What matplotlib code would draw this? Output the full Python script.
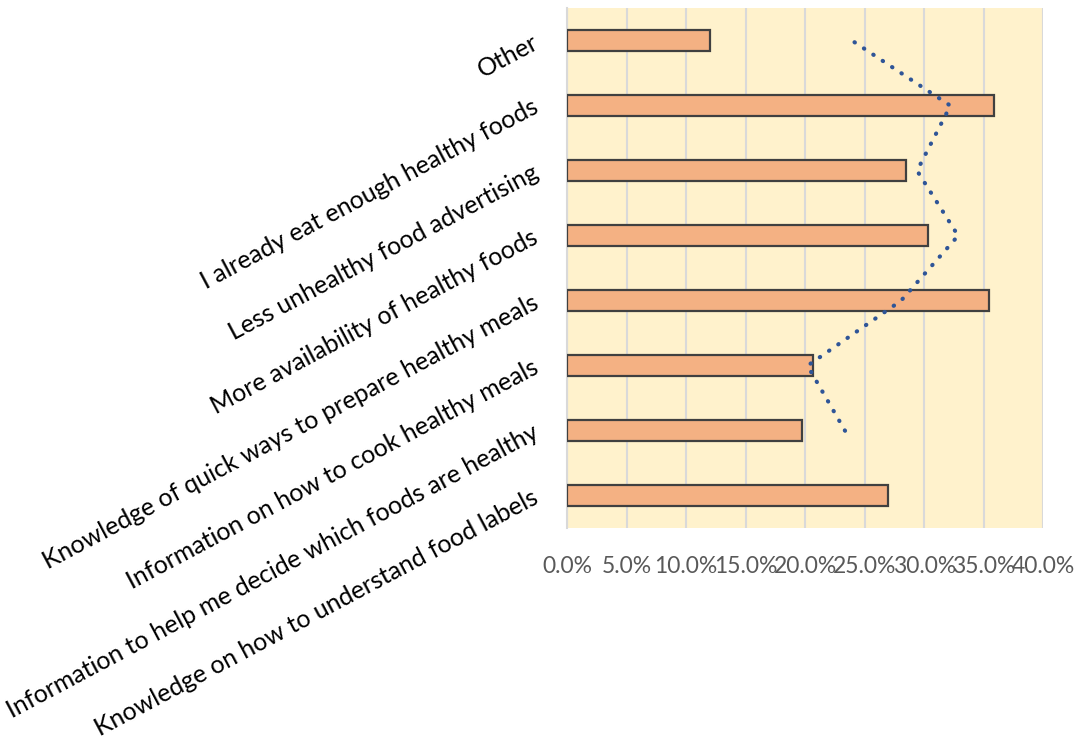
import numpy as np
import matplotlib.pyplot as plt
from matplotlib.ticker import PercentFormatter

# survey answers, bottom to top
categories = [
    "Knowledge on how to understand food labels",
    "Information to help me decide which foods are healthy",
    "Information on how to cook healthy meals",
    "Knowledge of quick ways to prepare healthy meals",
    "More availability of healthy foods",
    "Less unhealthy food advertising",
    "I already eat enough healthy foods",
    "Other",
]
shares = [27.0, 19.7, 20.7, 35.4, 30.3, 28.5, 35.9, 12.0]
x_ticks = [0, 5, 10, 15, 20, 25, 30, 35, 40]

plt.rcParams['font.family'] = ['Lato', 'DejaVu Sans']

fig = plt.figure(figsize=(10.8, 7.43), dpi=100)
ax = fig.add_axes([0.525, 0.289, 0.441, 0.700])
ax.set_facecolor("#FFF2CC")

y = np.arange(len(categories))
ax.barh(y, shares, height=0.32, color="#F4B183", edgecolor="#404040",
        linewidth=1.6, zorder=3)

# 2-period moving average trendline
vals = np.array(shares)
ma = (vals[1:] + vals[:-1]) / 2
ax.plot(ma, y[1:], color="#2F5597", linestyle=(0, (0.1, 2.6)), linewidth=3,
        dash_capstyle="round", zorder=4)

ax.set_xlim(0, 40)
ax.set_ylim(-0.5, len(categories) - 0.5)
ax.set_xticks(x_ticks)
ax.xaxis.set_major_formatter(PercentFormatter(decimals=1))
ax.grid(axis="x", color="#D9D9D9", linewidth=1.5, zorder=0)
for s in ["top", "right", "bottom"]:
    ax.spines[s].set_visible(False)
ax.spines["left"].set_color("#D9D9D9")
ax.spines["left"].set_linewidth(1.5)

ax.tick_params(axis="x", length=0, pad=20, labelsize=16.5, labelcolor="#595959")
ax.tick_params(axis="y", length=0, pad=22)
ax.set_yticks(y)
ax.set_yticklabels(categories, fontsize=18, rotation=28,
                   ha="right", va="center", rotation_mode="anchor")

fig.savefig("out.png", dpi=100)
